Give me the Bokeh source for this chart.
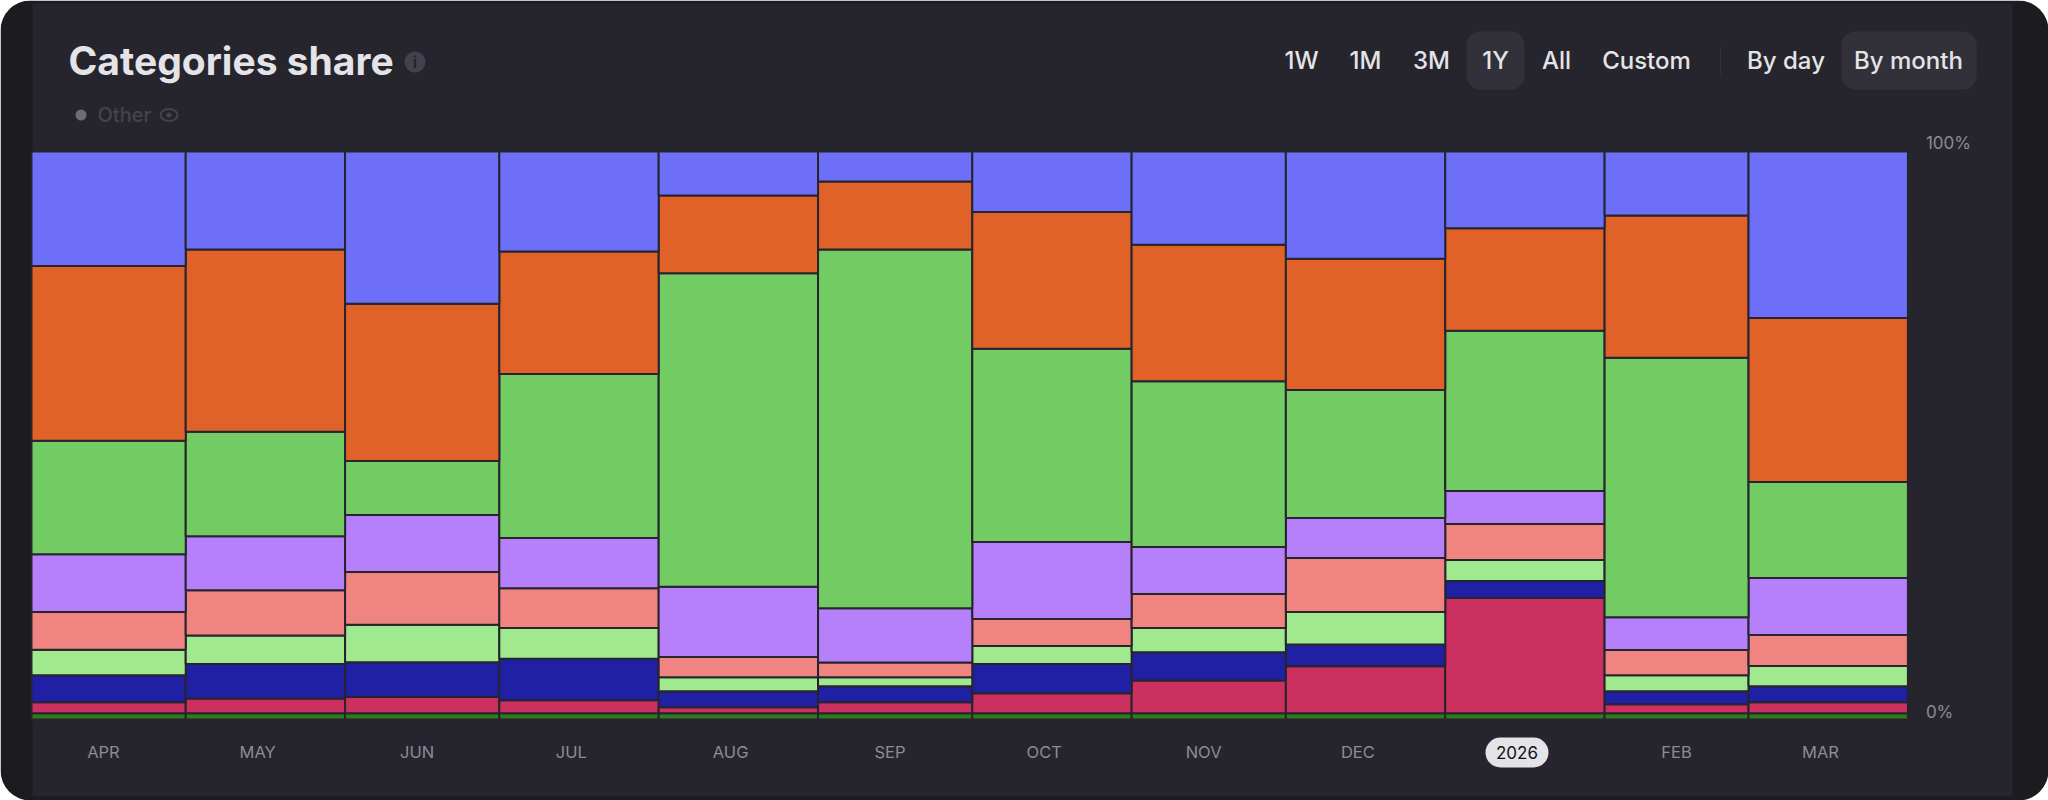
from bokeh.core.properties import value
from bokeh.embed import file_html
from bokeh.resources import INLINE
from bokeh.plotting import figure
from bokeh.models import ColumnDataSource, FixedTicker, LinearAxis, Range1d

# ---- data -------------------------------------------------------------
months = ["APR", "MAY", "JUN", "JUL", "AUG", "SEP", "OCT", "NOV", "DEC", "2026", "FEB", "MAR"]
month_days = [30, 31, 30, 31, 31, 30, 31, 30, 31, 31, 28, 31]

# share of each month in percent, bottom of the stack first
series_base = [1.11] * 12
series_crimson = [1.94, 2.59, 2.87, 2.29, 1.06, 1.94, 3.53, 5.76, 8.28, 20.27, 1.59, 1.94]
series_navy = [4.76, 6.05, 6.12, 7.28, 2.82, 2.82, 5.11, 4.99, 3.83, 3.00, 2.29, 2.82]
series_lime = [4.46, 5.06, 6.57, 5.41, 2.47, 1.59, 3.17, 4.23, 5.69, 3.70, 2.82, 3.53]
series_salmon = [6.65, 7.93, 9.29, 7.00, 3.53, 2.59, 4.76, 5.99, 9.52, 6.35, 4.41, 5.46]
series_violet = [10.17, 9.54, 10.05, 8.87, 12.39, 9.52, 13.57, 8.28, 7.05, 5.82, 5.76, 10.05]
series_green = [19.97, 18.37, 9.52, 28.86, 55.17, 63.16, 34.02, 29.21, 22.51, 28.20, 45.71, 16.92]
series_orange = [30.79, 32.08, 27.67, 21.56, 13.70, 11.99, 24.10, 24.03, 23.14, 18.03, 25.03, 28.86]
series_blue = [20.15, 17.27, 26.79, 17.63, 7.76, 5.29, 10.63, 16.39, 18.86, 13.52, 11.28, 29.31]

stack = [
    (series_base, "#2f7a1f"),
    (series_crimson, "#cc3060"),
    (series_navy, "#1f20a3"),
    (series_lime, "#a0e98f"),
    (series_salmon, "#f08480"),
    (series_violet, "#b580f9"),
    (series_green, "#72cc63"),
    (series_orange, "#e06229"),
    (series_blue, "#6e6ff9"),
]

pct_ticks = [0, 100]
pct_labels = {0: "0%", 100: "100%"}

# ---- layout constants --------------------------------------------------
W, H = 2048, 800
PLOT_L, PLOT_R, PLOT_B = 31.0, 1907.4, 719.0
PANEL = "#26252d"
OUTER = "#1c1b1f"
PILL = "#32313a"
TEXT = "#e4e4e8"
MUTED = "#8c8b96"
DIM = "#45444e"
FONT = "Inter"
FONT_MEDIUM = "'Inter Medium', Inter"
PX_PER_DAY = (PLOT_R - PLOT_L) / 365
PX_PER_PCT = 5.68


def dx(px):
    return (px - PLOT_L) / PX_PER_DAY


def dy(py):
    return (PLOT_B - py) / PX_PER_PCT


starts = [sum(month_days[:i]) for i in range(12)]
ends = [s + d for s, d in zip(starts, month_days)]
ticks = [s + 14 for s in starts]

p = figure(
    width=W, height=H, output_backend="svg", toolbar_location=None,
    x_range=Range1d(dx(0), dx(W)), y_range=Range1d(dy(H), dy(0)),
    min_border=0, min_border_left=0, min_border_right=0, min_border_top=0, min_border_bottom=0,
    x_axis_location=None, y_axis_location=None,
)
p.background_fill_color = "#ffffff"
p.border_fill_color = "#ffffff"
p.outline_line_color = None
p.grid.visible = False


def box(left, right, top, bottom, color, radius=0, line=None, line_width=1):
    p.quad(left=[dx(left)], right=[dx(right)], top=[dy(top)], bottom=[dy(bottom)],
           fill_color=color, fill_alpha=1 if color else 0,
           line_color=line, line_width=line_width, border_radius=radius)


def label(text, x, y, size, color, align="center", style="normal", font=FONT):
    p.text(x=[dx(x)], y=[dy(y)], text=[text], text_font=value(font), text_font_size=f"{size}px",
           text_color=color, text_align=align, text_baseline="middle", text_font_style=style)


def dot(x, y, size, color):
    p.scatter(x=[dx(x)], y=[dy(y)], size=size, marker="circle", fill_color=color, line_color=None)


# ---- card --------------------------------------------------------------
box(0, W, 0, H, OUTER, radius=30)
box(32, 2012, 3, 796, PANEL)

# ---- bars --------------------------------------------------------------
running = [0.0] * 12
for values, color in stack:
    tops = [r + v for r, v in zip(running, values)]
    src = ColumnDataSource(dict(left=starts, right=ends, bottom=running, top=tops))
    p.quad(left="left", right="right", bottom="bottom", top="top", source=src,
           fill_color=color, line_color=PANEL, line_width=2)
    running = tops

# ---- "2026" pill behind the x axis --------------------------------------
box(1485, 1548, 737, 767, TEXT, radius=15)
label("2026", 1516.5, 752, 17, "#111114")

# ---- axes --------------------------------------------------------------
xaxis = LinearAxis(fixed_location=0, ticker=FixedTicker(ticks=ticks),
                   major_label_overrides={t: ("" if m == "2026" else m) for t, m in zip(ticks, months)})
xaxis.major_label_text_font = FONT
xaxis.major_label_text_font_size = "16.5px"
xaxis.major_label_text_color = MUTED
xaxis.major_label_standoff = 16
xaxis.major_tick_line_color = None
xaxis.minor_tick_line_color = None
xaxis.axis_line_color = None
p.add_layout(xaxis, "below")

p.extra_y_ranges = {"pct": Range1d((711 - H) / 5.69, 711 / 5.69)}
yaxis = LinearAxis(y_range_name="pct", fixed_location=365, ticker=FixedTicker(ticks=pct_ticks),
                   major_label_overrides=pct_labels)
yaxis.major_label_text_font = FONT
yaxis.major_label_text_font_size = "17px"
yaxis.major_label_text_color = MUTED
yaxis.major_label_standoff = 12
yaxis.major_tick_line_color = None
yaxis.minor_tick_line_color = None
yaxis.axis_line_color = None
p.add_layout(yaxis, "right")

# ---- header -------------------------------------------------------------
label("Categories share", 68, 60, 39, TEXT, align="left", style="bold")
dot(414.5, 61.5, 21, "#42414d")
label("i", 414.5, 61.5, 16, PANEL, style="bold")

dot(80.5, 114.5, 11, "#6c6b78")
label("Other", 97, 114.5, 20, DIM, align="left", font=FONT_MEDIUM)
p.ellipse(x=[dx(168.5)], y=[dy(114.5)], width=17 / PX_PER_DAY, height=12 / PX_PER_PCT,
          fill_alpha=0, line_color=DIM, line_width=2)
dot(168.5, 114.5, 5, DIM)

box(1466, 1524, 31, 89, PILL, radius=14)
box(1841, 1976, 31, 89, PILL, radius=14)
box(1719.5, 1720.5, 47, 74, PILL)
for txt, cx in [("1W", 1301), ("1M", 1365), ("3M", 1431), ("1Y", 1495), ("All", 1556),
                ("Custom", 1646), ("By day", 1785.5), ("By month", 1908)]:
    label(txt, cx, 60, 24, TEXT, font=FONT_MEDIUM)

open("out.html", "w").write(file_html(p, INLINE))
